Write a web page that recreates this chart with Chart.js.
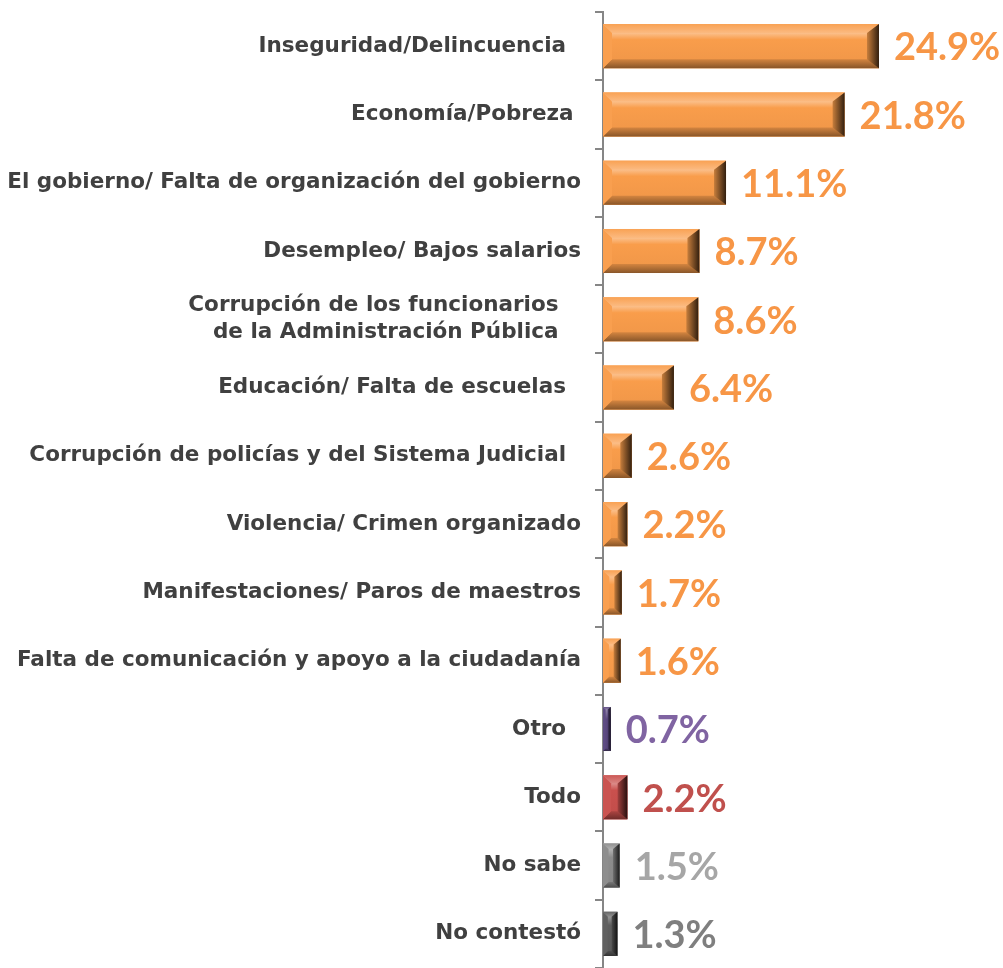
<!DOCTYPE html>
<html lang="es">
<head>
    <meta charset="UTF-8">
    <title>Problemas principales</title>
    <script src="https://cdn.jsdelivr.net/npm/chart.js"></script>
    <style>
        body { margin: 0; background: #fff; }
        #wrap { width: 1003px; height: 968px; position: relative; }
    </style>
</head>
<body>
    <div id="wrap"><canvas id="problemChart"></canvas></div>
    <script>
        const categories = [
            'Inseguridad/Delincuencia  ',
            'Economía/Pobreza ',
            'El gobierno/ Falta de organización del gobierno',
            'Desempleo/ Bajos salarios',
            ['Corrupción de los funcionarios   ', 'de la Administración Pública   '],
            'Educación/ Falta de escuelas  ',
            'Corrupción de policías y del Sistema Judicial  ',
            'Violencia/ Crimen organizado',
            'Manifestaciones/ Paros de maestros',
            'Falta de comunicación y apoyo a la ciudadanía',
            'Otro  ',
            'Todo',
            'No sabe',
            'No contestó'
        ];
        const values = [24.9, 21.8, 11.1, 8.7, 8.6, 6.4, 2.6, 2.2, 1.7, 1.6, 0.7, 2.2, 1.5, 1.3];
        const valueLabels = ['24.9%', '21.8%', '11.1%', '8.7%', '8.6%', '6.4%', '2.6%', '2.2%', '1.7%', '1.6%', '0.7%', '2.2%', '1.5%', '1.3%'];

        // colores: barra y etiqueta
        const barColors = ['#F99D4B', '#F99D4B', '#F99D4B', '#F99D4B', '#F99D4B', '#F99D4B', '#F99D4B',
            '#F99D4B', '#F99D4B', '#F99D4B', '#5B4880', '#C9504D', '#8C8C8C', '#5E5E5E'];
        const labelColors = ['#F79646', '#F79646', '#F79646', '#F79646', '#F79646', '#F79646', '#F79646',
            '#F79646', '#F79646', '#F79646', '#8064A2', '#C0504D', '#A6A6A6', '#7F7F7F'];

        function shade(hex, f) {
            const n = parseInt(hex.slice(1), 16);
            let r = (n >> 16) & 255, g = (n >> 8) & 255, b = n & 255;
            if (f >= 0) {
                r += (255 - r) * f; g += (255 - g) * f; b += (255 - b) * f;
            } else {
                r *= 1 + f; g *= 1 + f; b *= 1 + f;
            }
            return `rgb(${Math.round(r)},${Math.round(g)},${Math.round(b)})`;
        }

        function poly(ctx, pts, fill) {
            ctx.beginPath();
            ctx.moveTo(pts[0][0], pts[0][1]);
            for (let i = 1; i < pts.length; i++) ctx.lineTo(pts[i][0], pts[i][1]);
            ctx.closePath();
            ctx.fillStyle = fill;
            ctx.fill();
        }

        // bisel de las barras + etiquetas de valor
        const bevelPlugin = {
            id: 'bevel',
            afterDatasetsDraw(chart) {
                const ctx = chart.ctx;
                const meta = chart.getDatasetMeta(0);
                meta.data.forEach((bar, i) => {
                    const x0 = bar.base, x1 = bar.x;
                    const y0 = bar.y - bar.height / 2, y1 = bar.y + bar.height / 2;
                    const base = barColors[i];
                    const b = Math.min(9, (x1 - x0) / 3);
                    ctx.save();
                    // cara
                    const face = ctx.createLinearGradient(0, y0 + b, 0, y1 - b);
                    face.addColorStop(0, shade(base, 0.35));
                    face.addColorStop(0.25, base);
                    face.addColorStop(1, shade(base, -0.03));
                    ctx.fillStyle = face;
                    ctx.fillRect(x0, y0, x1 - x0, y1 - y0);
                    // arriba
                    const top = ctx.createLinearGradient(0, y0, 0, y0 + b);
                    top.addColorStop(0, shade(base, 0.05));
                    top.addColorStop(1, shade(base, 0.3));
                    poly(ctx, [[x0, y0], [x1, y0], [x1 - b, y0 + b], [x0 + b, y0 + b]], top);
                    // abajo
                    const bot = ctx.createLinearGradient(0, y1 - b, 0, y1);
                    bot.addColorStop(0, shade(base, -0.15));
                    bot.addColorStop(1, shade(base, -0.45));
                    poly(ctx, [[x0, y1], [x1, y1], [x1 - b, y1 - b], [x0 + b, y1 - b]], bot);
                    // izquierda
                    poly(ctx, [[x0, y0], [x0 + b, y0 + b], [x0 + b, y1 - b], [x0, y1]], shade(base, 0.02));
                    // derecha
                    const rb = Math.min(12, (x1 - x0) / 2.5);
                    const rg = ctx.createLinearGradient(x1 - rb, 0, x1, 0);
                    rg.addColorStop(0, shade(base, -0.2));
                    rg.addColorStop(1, shade(base, -0.8));
                    poly(ctx, [[x1, y0], [x1 - rb, y0 + b], [x1 - rb, y1 - b], [x1, y1]], rg);
                    // etiqueta
                    ctx.font = 'bold 38px Lato, "DejaVu Sans", sans-serif';
                    ctx.fillStyle = labelColors[i];
                    ctx.textAlign = 'left';
                    ctx.textBaseline = 'middle';
                    ctx.fillText(valueLabels[i], x1 + 15, bar.y + 2);
                    ctx.restore();
                });
            }
        };

        new Chart(document.getElementById('problemChart'), {
            type: 'bar',
            data: {
                labels: categories,
                datasets: [{
                    data: values,
                    backgroundColor: barColors,
                    borderWidth: 0,
                    barPercentage: 0.645,
                    categoryPercentage: 1
                }]
            },
            options: {
                indexAxis: 'y',
                responsive: true,
                maintainAspectRatio: false,
                animation: false,
                layout: { padding: { top: 12, left: 0, right: 1, bottom: 0 } },
                plugins: {
                    legend: { display: false },
                    tooltip: { enabled: false }
                },
                scales: {
                    x: {
                        display: false,
                        min: 0,
                        max: 36
                    },
                    y: {
                        afterFit(scale) {
                            scale.width = 603;
                            scale.paddingTop = 0;
                            scale.paddingBottom = 0;
                        },
                        border: { display: true, color: '#868686', width: 2 },
                        grid: {
                            offset: true,
                            drawOnChartArea: false,
                            drawTicks: true,
                            tickLength: 8,
                            color: '#868686',
                            lineWidth: 2
                        },
                        ticks: {
                            color: '#404040',
                            padding: 14,
                            font: { family: '"DejaVu Sans", sans-serif', size: 21.5, weight: 'bold', lineHeight: 1.26 }
                        }
                    }
                }
            },
            plugins: [bevelPlugin]
        });
    </script>
</body>
</html>
